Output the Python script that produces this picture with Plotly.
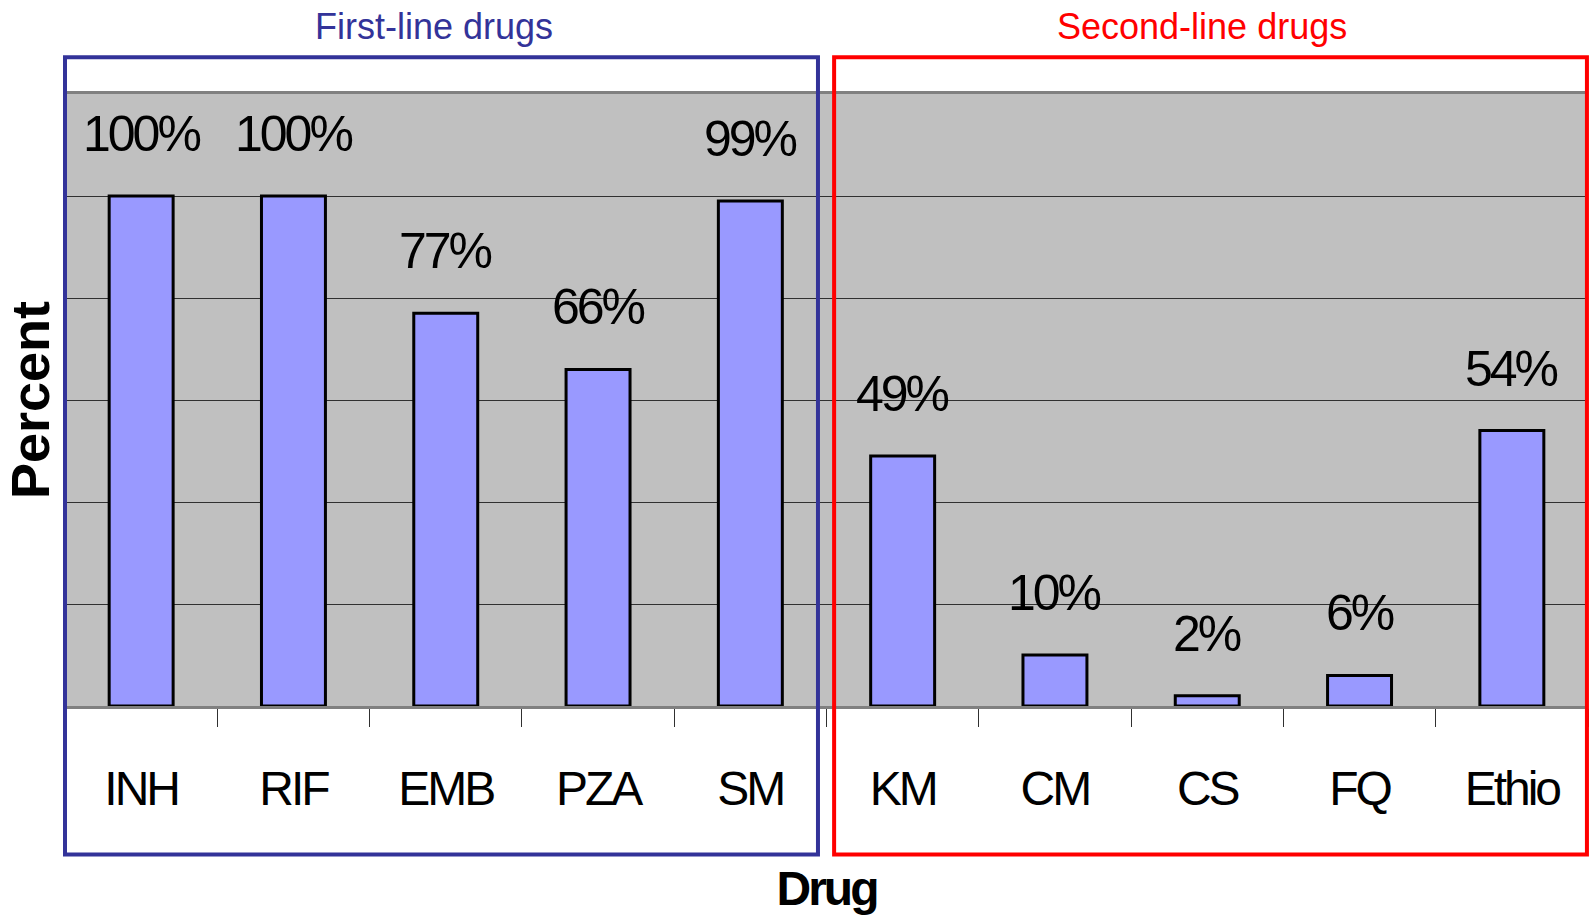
import plotly.graph_objects as go

drugs = ["INH", "RIF", "EMB", "PZA", "SM", "KM", "CM", "CS", "FQ", "Ethio"]
percent = [100, 100, 77, 66, 99, 49, 10, 2, 6, 54]
group_names = ["First-line drugs", "Second-line drugs"]
group_colors = ["#333399", "#FF0000"]
y_ticks = [0, 20, 40, 60, 80, 100, 120]

FONT = "Liberation Sans, Arial, sans-serif"


def tight(s, sp=-3):
    return f'<span style="letter-spacing:{sp}px">{s}</span>'


fig = go.Figure()
fig.add_trace(go.Bar(
    x=drugs, y=percent,
    marker=dict(color="#9999FF", line=dict(color="black", width=3)),
    hoverinfo="x+y",
))

# value labels above bars
for d, v in zip(drugs, percent):
    fig.add_annotation(x=d, y=v, text=tight(f"{v}%"), showarrow=False,
                       xanchor="center", yanchor="bottom", yshift=32,
                       font=dict(family=FONT, size=50, color="black"))

# group boxes and titles
box_x = [(0.0, 0.4944), (0.505, 0.9993)]
title_x = [0.242, 0.7466]
for (x0, x1), tx, c, name in zip(box_x, title_x, group_colors, group_names):
    fig.add_shape(type="rect", xref="paper", yref="paper",
                  x0=x0, x1=x1, y0=-0.2427, y1=1.060,
                  line=dict(color=c, width=4), fillcolor="rgba(0,0,0,0)",
                  layer="above")
    fig.add_annotation(xref="paper", yref="paper", x=tx, y=1.11,
                       text=name, showarrow=False, xanchor="center", yanchor="middle",
                       font=dict(family=FONT, size=36, color=c))

fig.update_layout(
    width=1592, height=916,
    margin=dict(l=65, r=4, t=94, b=210),
    paper_bgcolor="white",
    plot_bgcolor="#C0C0C0",
    bargap=0.58,
    showlegend=False,
    xaxis=dict(
        type="category", automargin=False,
        tickvals=drugs, ticktext=[tight(d) for d in drugs],
        showline=True, linecolor="#808080", linewidth=3, mirror=True,
        ticks="outside", tickson="boundaries", ticklen=18, tickcolor="#303030", tickwidth=1,
        ticklabelstandoff=38,
        tickfont=dict(family=FONT, size=48, color="black"),
        showgrid=False,
        title=dict(text="<b>" + tight("Drug") + "</b>", standoff=58,
                   font=dict(family=FONT, size=48, color="black")),
    ),
    yaxis=dict(
        range=[0, 120], tickvals=y_ticks, showticklabels=False, automargin=False,
        showgrid=True, gridcolor="#303030", gridwidth=1,
        zeroline=False, showline=False, ticks="",
        title=dict(text="<b>Percent</b>", standoff=2,
                   font=dict(family=FONT, size=54, color="black")),
    ),
)

fig.write_html("out.html", config={"displayModeBar": False},
               post_script="document.body.style.margin='0';")
